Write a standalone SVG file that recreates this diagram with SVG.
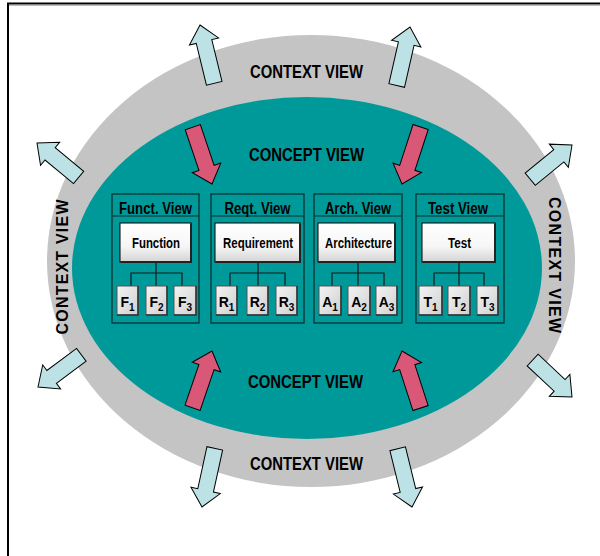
<svg xmlns="http://www.w3.org/2000/svg" width="600" height="556" viewBox="0 0 600 556">
<defs>
<linearGradient id="gMain" x1="0" y1="0" x2="0" y2="1">
<stop offset="0" stop-color="#ffffff"/><stop offset="0.6" stop-color="#f6f6f6"/><stop offset="1" stop-color="#d4d4d4"/>
</linearGradient>
<linearGradient id="gSmall" x1="0" y1="0" x2="1" y2="1">
<stop offset="0" stop-color="#f4f4f4"/><stop offset="1" stop-color="#cfcfcf"/>
</linearGradient>
<path id="arrL" d="M0,0 L15,17 L8,17 L8,60 L-8,60 L-8,17 L-15,17 Z"/>
<path id="arrS" d="M0,0 L15,17 L8,17 L8,54 L-8,54 L-8,17 L-15,17 Z"/>
</defs>
<style>
.t{font-family:"Liberation Sans",Arial,sans-serif;font-weight:bold;fill:#000;}
.big{font-size:18px;}
.side{font-size:16px;}
.hdr{font-size:16px;}
.mn{font-size:14px;}
.sb{font-size:14px;}
.sub{font-size:10px;}
.view{fill:#009999;stroke:#0d2b2b;stroke-width:1.2;}
.hl{stroke:#0d2b2b;stroke-width:1.2;fill:none;}
.main{fill:url(#gMain);stroke:#000;stroke-width:1;}
.sh{fill:none;stroke:#222;stroke-width:2;}
.small{fill:url(#gSmall);stroke:#555;stroke-width:1;}
.ssh{fill:none;stroke:#333;stroke-width:1.5;}
.blue{fill:#bde2e5;stroke:#000;stroke-width:1;}
.pink{fill:#d95878;stroke:#000;stroke-width:1;}
.con{stroke:#1a1a1a;stroke-width:1.2;fill:none;}
</style>
<rect width="600" height="556" fill="#fff"/>
<path d="M8,556 V3.5 H600" fill="none" stroke="#000" stroke-width="2"/>
<line x1="9" y1="5.5" x2="600" y2="5.5" stroke="#bbb" stroke-width="1"/>

<g id="context">
<ellipse cx="311" cy="261" rx="264" ry="226" fill="#c4c4c4"/>
<text class="t big" x="306.5" y="78" text-anchor="middle" textLength="113" lengthAdjust="spacingAndGlyphs">CONTEXT VIEW</text>
<text class="t big" x="306.5" y="470" text-anchor="middle" textLength="113" lengthAdjust="spacingAndGlyphs">CONTEXT VIEW</text>
<text class="t side" transform="translate(68,267) rotate(-90)" text-anchor="middle" textLength="135" lengthAdjust="spacing">CONTEXT VIEW</text>
<text class="t side" transform="translate(549,265) rotate(90)" text-anchor="middle" textLength="136" lengthAdjust="spacing">CONTEXT VIEW</text>
</g>

<g id="concept">
<ellipse cx="307" cy="268" rx="235" ry="171" fill="#009999"/>
<text class="t big" x="306.5" y="161" text-anchor="middle" textLength="115" lengthAdjust="spacingAndGlyphs">CONCEPT VIEW</text>
<text class="t big" x="305.5" y="388" text-anchor="middle" textLength="115" lengthAdjust="spacingAndGlyphs">CONCEPT VIEW</text>
</g>

<g id="arrows">
<use href="#arrL" class="blue" transform="translate(200,25) rotate(-13.7)"/>
<use href="#arrL" class="blue" transform="translate(410,27) rotate(12.8)"/>
<use href="#arrS" class="blue" transform="translate(37,143) rotate(-50.4)"/>
<use href="#arrS" class="blue" transform="translate(38,387) rotate(-126.6)"/>
<use href="#arrS" class="blue" transform="translate(572,145) rotate(50.7)"/>
<use href="#arrS" class="blue" transform="translate(572,397) rotate(133.2)"/>
<use href="#arrL" class="blue" transform="translate(202,507) rotate(-167.7)"/>
<use href="#arrL" class="blue" transform="translate(412,507) rotate(166.2)"/>
<use href="#arrL" class="pink" transform="translate(212,184) rotate(161.3)"/>
<use href="#arrL" class="pink" transform="translate(402,184) rotate(-161.9)"/>
<use href="#arrL" class="pink" transform="translate(212,351) rotate(18.9)"/>
<use href="#arrL" class="pink" transform="translate(402,351) rotate(-18)"/>
</g>

<g id="funct-view">
<rect class="view" x="112" y="194" width="87" height="129"/>
<line class="hl" x1="112" y1="216" x2="199" y2="216"/>
<text class="t hdr" x="155.5" y="214" text-anchor="middle" textLength="73" lengthAdjust="spacingAndGlyphs">Funct. View</text>
</g>
<g id="reqt-view">
<rect class="view" x="211" y="194" width="93" height="129"/>
<line class="hl" x1="211" y1="216" x2="304" y2="216"/>
<text class="t hdr" x="257.5" y="214" text-anchor="middle" textLength="66" lengthAdjust="spacingAndGlyphs">Reqt. View</text>
</g>
<g id="arch-view">
<rect class="view" x="314" y="194" width="88" height="129"/>
<line class="hl" x1="314" y1="216" x2="402" y2="216"/>
<text class="t hdr" x="358" y="214" text-anchor="middle" textLength="66" lengthAdjust="spacingAndGlyphs">Arch. View</text>
</g>
<g id="test-view">
<rect class="view" x="416" y="194" width="88" height="129"/>
<line class="hl" x1="416" y1="216" x2="504" y2="216"/>
<text class="t hdr" x="458" y="214" text-anchor="middle" textLength="60" lengthAdjust="spacingAndGlyphs">Test View</text>
</g>

<g id="connectors">
<path class="con" d="M156,262 V273 M131,286 V273 H182 V286 M156,273 V286"/>
<path class="con" d="M258,262 V273 M230,286 V273 H285 V286 M258,273 V286"/>
<path class="con" d="M358,262 V273 M332,286 V273 H384 V286 M358,273 V286"/>
<path class="con" d="M459,262 V273 M434,286 V273 H484 V286 M459,273 V286"/>
</g>

<g id="function">
<rect class="main" x="120" y="223" width="71" height="39"/>
<path class="sh" d="M191,223.5 V262 H120.5"/>
<text class="t mn" x="156" y="248" text-anchor="middle" textLength="48" lengthAdjust="spacingAndGlyphs">Function</text>
</g>
<g id="requirement">
<rect class="main" x="215" y="223" width="85" height="39"/>
<path class="sh" d="M300,223.5 V262 H215.5"/>
<text class="t mn" x="258" y="248" text-anchor="middle" textLength="70" lengthAdjust="spacingAndGlyphs">Requirement</text>
</g>
<g id="architecture">
<rect class="main" x="318" y="223" width="77" height="39"/>
<path class="sh" d="M395,223.5 V262 H318.5"/>
<text class="t mn" x="358.5" y="248" text-anchor="middle" textLength="67" lengthAdjust="spacingAndGlyphs">Architecture</text>
</g>
<g id="test">
<rect class="main" x="422" y="223" width="73" height="39"/>
<path class="sh" d="M495,223.5 V262 H422.5"/>
<text class="t mn" x="459.5" y="248" text-anchor="middle" textLength="23" lengthAdjust="spacingAndGlyphs">Test</text>
</g>

<g id="f1"><rect class="small" x="117" y="286" width="21" height="29"/><path class="ssh" d="M138,286 V315 H117"/><text class="t sb" x="127.5" y="307" text-anchor="middle">F<tspan class="sub" dy="4">1</tspan></text></g>
<g id="f2"><rect class="small" x="146" y="286" width="21" height="29"/><path class="ssh" d="M167,286 V315 H146"/><text class="t sb" x="156.5" y="307" text-anchor="middle">F<tspan class="sub" dy="4">2</tspan></text></g>
<g id="f3"><rect class="small" x="174" y="286" width="22" height="29"/><path class="ssh" d="M196,286 V315 H174"/><text class="t sb" x="185" y="307" text-anchor="middle">F<tspan class="sub" dy="4">3</tspan></text></g>

<g id="r1"><rect class="small" x="216" y="286" width="21" height="29"/><path class="ssh" d="M237,286 V315 H216"/><text class="t sb" x="226.5" y="307" text-anchor="middle">R<tspan class="sub" dy="4">1</tspan></text></g>
<g id="r2"><rect class="small" x="247" y="286" width="21" height="29"/><path class="ssh" d="M268,286 V315 H247"/><text class="t sb" x="257.5" y="307" text-anchor="middle">R<tspan class="sub" dy="4">2</tspan></text></g>
<g id="r3"><rect class="small" x="276" y="286" width="21" height="29"/><path class="ssh" d="M297,286 V315 H276"/><text class="t sb" x="286.5" y="307" text-anchor="middle">R<tspan class="sub" dy="4">3</tspan></text></g>

<g id="a1"><rect class="small" x="319" y="286" width="22" height="29"/><path class="ssh" d="M341,286 V315 H319"/><text class="t sb" x="330" y="307" text-anchor="middle">A<tspan class="sub" dy="4">1</tspan></text></g>
<g id="a2"><rect class="small" x="348" y="286" width="22" height="29"/><path class="ssh" d="M370,286 V315 H348"/><text class="t sb" x="359" y="307" text-anchor="middle">A<tspan class="sub" dy="4">2</tspan></text></g>
<g id="a3"><rect class="small" x="376" y="286" width="21" height="29"/><path class="ssh" d="M397,286 V315 H376"/><text class="t sb" x="386.5" y="307" text-anchor="middle">A<tspan class="sub" dy="4">3</tspan></text></g>

<g id="t1"><rect class="small" x="419" y="286" width="23" height="29"/><path class="ssh" d="M442,286 V315 H419"/><text class="t sb" x="430.5" y="307" text-anchor="middle">T<tspan class="sub" dy="4">1</tspan></text></g>
<g id="t2"><rect class="small" x="448" y="286" width="22" height="29"/><path class="ssh" d="M470,286 V315 H448"/><text class="t sb" x="459" y="307" text-anchor="middle">T<tspan class="sub" dy="4">2</tspan></text></g>
<g id="t3"><rect class="small" x="477" y="286" width="21" height="29"/><path class="ssh" d="M498,286 V315 H477"/><text class="t sb" x="487.5" y="307" text-anchor="middle">T<tspan class="sub" dy="4">3</tspan></text></g>
</svg>
